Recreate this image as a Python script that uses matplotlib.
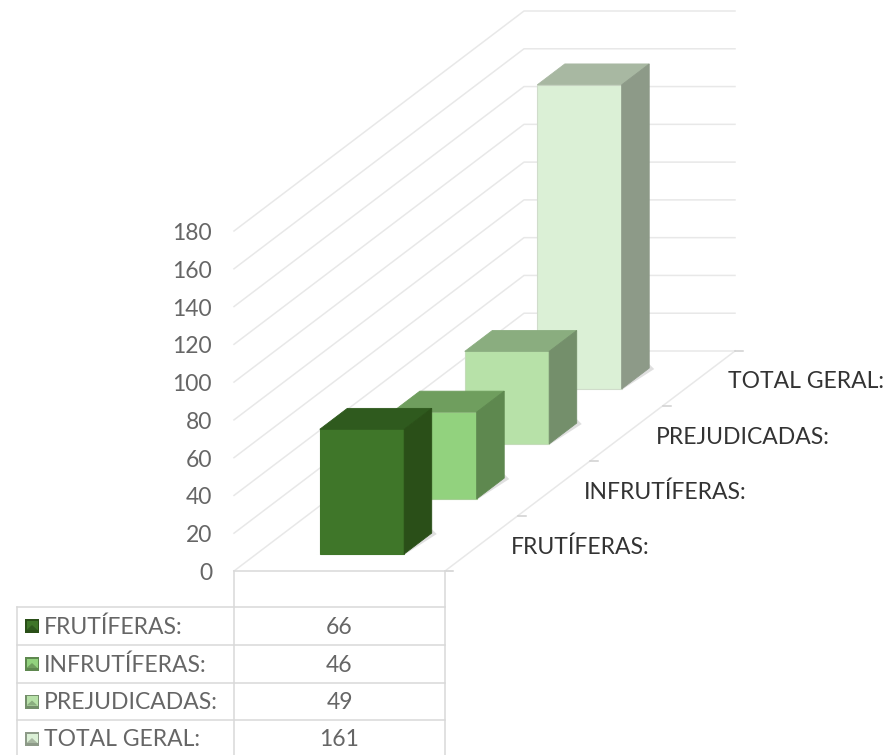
import matplotlib
matplotlib.use('Agg')
import matplotlib.pyplot as plt
from matplotlib.patches import Polygon, Rectangle

plt.rcParams['font.family'] = ['Lato', 'DejaVu Sans']

# Data
categories = ['FRUTÍFERAS:', 'INFRUTÍFERAS:', 'PREJUDICADAS:', 'TOTAL GERAL:']
values = [66, 46, 49, 161]
y_ticks = [0, 20, 40, 60, 80, 100, 120, 140, 160, 180]

front_colors = ['#3f7629', '#92d27e', '#b7e1a8', '#dbf0d6']
top_colors = ['#2f5a1e', '#6f9e5e', '#8aad7f', '#a8b8a2']
side_colors = ['#2a4f18', '#5e884f', '#748f6b', '#8d9a88']
edge_colors = ['#3f7629', '#a5cf95', '#c4dcb9', '#d0dccb']

# Oblique projection of the excel 3d chart, in image pixels
X0, Y0 = 234, 571
WIDTH = 211
DX, DY = 72.5, 55
PX_PER_UNIT = 340 / 180
BAR_W = 0.4
BAR_D = 0.38
GRID = '#e8e8e8'
TABLE = '#d9d9d9'
LW = 1.1
FS = 16.5


def proj(x, d, v=0):
    return X0 + x * WIDTH + d * DX, Y0 - d * DY - v * PX_PER_UNIT


fig = plt.figure(figsize=(8.93, 7.55), dpi=100)
ax = fig.add_axes([0, 0, 1, 1])
ax.set_xlim(0, 893)
ax.set_ylim(755, 0)
ax.axis('off')

n = len(categories)

# walls
for v in y_ticks:
    ax.plot(*zip(proj(0, 0, v), proj(0, n, v), proj(1, n, v)), color=GRID, lw=LW, zorder=1)
    px, py = proj(0, 0, v)
    ax.text(px - 22, py + 2.5, str(v), ha='right', va='center', fontsize=FS, color='#666666')

# floor edge and ticks
ax.plot(*zip(proj(1, 0), proj(1, n)), color=GRID, lw=LW, zorder=1)
for i in range(n + 1):
    px, py = proj(1, i)
    ax.plot([px, px + 8], [py, py], color='#d0d0d0', lw=LW, zorder=1)

# bars, back to front
for i in reversed(range(n)):
    x1 = 0.5 - BAR_W / 2
    x2 = 0.5 + BAR_W / 2
    d1 = i + 0.5 - BAR_D / 2
    d2 = i + 0.5 + BAR_D / 2
    v = values[i]
    z = 10 + (n - i)
    fl = proj(x1, d1)
    fr = proj(x2, d1)
    br = proj(x2, d2)
    shadow = [(fl[0] - 4, fl[1] + 1), (fr[0], fr[1] + 1), (br[0] + 5, br[1] + 1), (br[0], br[1] - 4), fr]
    ax.add_patch(Polygon(shadow, closed=True, fc='#d8d8d8', ec='none', alpha=0.8, zorder=z))
    ax.add_patch(Polygon([fl, fr, proj(x2, d1, v), proj(x1, d1, v)], closed=True,
                         fc=front_colors[i], ec=edge_colors[i], lw=0.8, zorder=z))
    ax.add_patch(Polygon([proj(x1, d1, v), proj(x2, d1, v), proj(x2, d2, v), proj(x1, d2, v)], closed=True,
                         fc=top_colors[i], ec=top_colors[i], lw=0.6, zorder=z))
    ax.add_patch(Polygon([fr, br, proj(x2, d2, v), proj(x2, d1, v)], closed=True,
                         fc=side_colors[i], ec=side_colors[i], lw=0.6, zorder=z))

# category labels along the floor
for i, name in enumerate(categories):
    px, py = proj(1, i)
    ax.text(px + 66, py - 24, name, ha='left', va='center', fontsize=FS, color='#333333')

# data table
rows = [607, 645, 683, 720, 758]
left = 17
mid = X0
right = X0 + WIDTH
ax.plot([mid, right], [Y0, Y0], color=TABLE, lw=LW, zorder=2)
ax.plot([mid, mid], [Y0, 755], color=TABLE, lw=LW, zorder=2)
ax.plot([right, right], [Y0, 755], color=TABLE, lw=LW, zorder=2)
ax.plot([left, left], [rows[0], 755], color=TABLE, lw=LW, zorder=2)
for r in rows[:-1]:
    ax.plot([left, right], [r, r], color=TABLE, lw=LW, zorder=2)

for i, name in enumerate(categories):
    yc = (rows[i] + rows[i + 1]) / 2
    # legend key, small bevelled square
    ax.add_patch(Rectangle((25, yc - 7), 14, 14, fc=side_colors[i], ec='none', zorder=3))
    ax.add_patch(Rectangle((26.5, yc - 5.5), 11, 9.5, fc=front_colors[i], ec='none', zorder=4))
    ax.add_patch(Polygon([(26.5, yc + 4), (37.5, yc + 4), (32, yc - 1)], closed=True,
                         fc=top_colors[i], ec='none', zorder=5))
    ax.text(44, yc + 1, name, ha='left', va='center', fontsize=FS, color='#666666')
    ax.text((mid + right) / 2, yc + 1, str(values[i]), ha='center', va='center', fontsize=FS, color='#666666')

fig.savefig('out.png', dpi=100)
